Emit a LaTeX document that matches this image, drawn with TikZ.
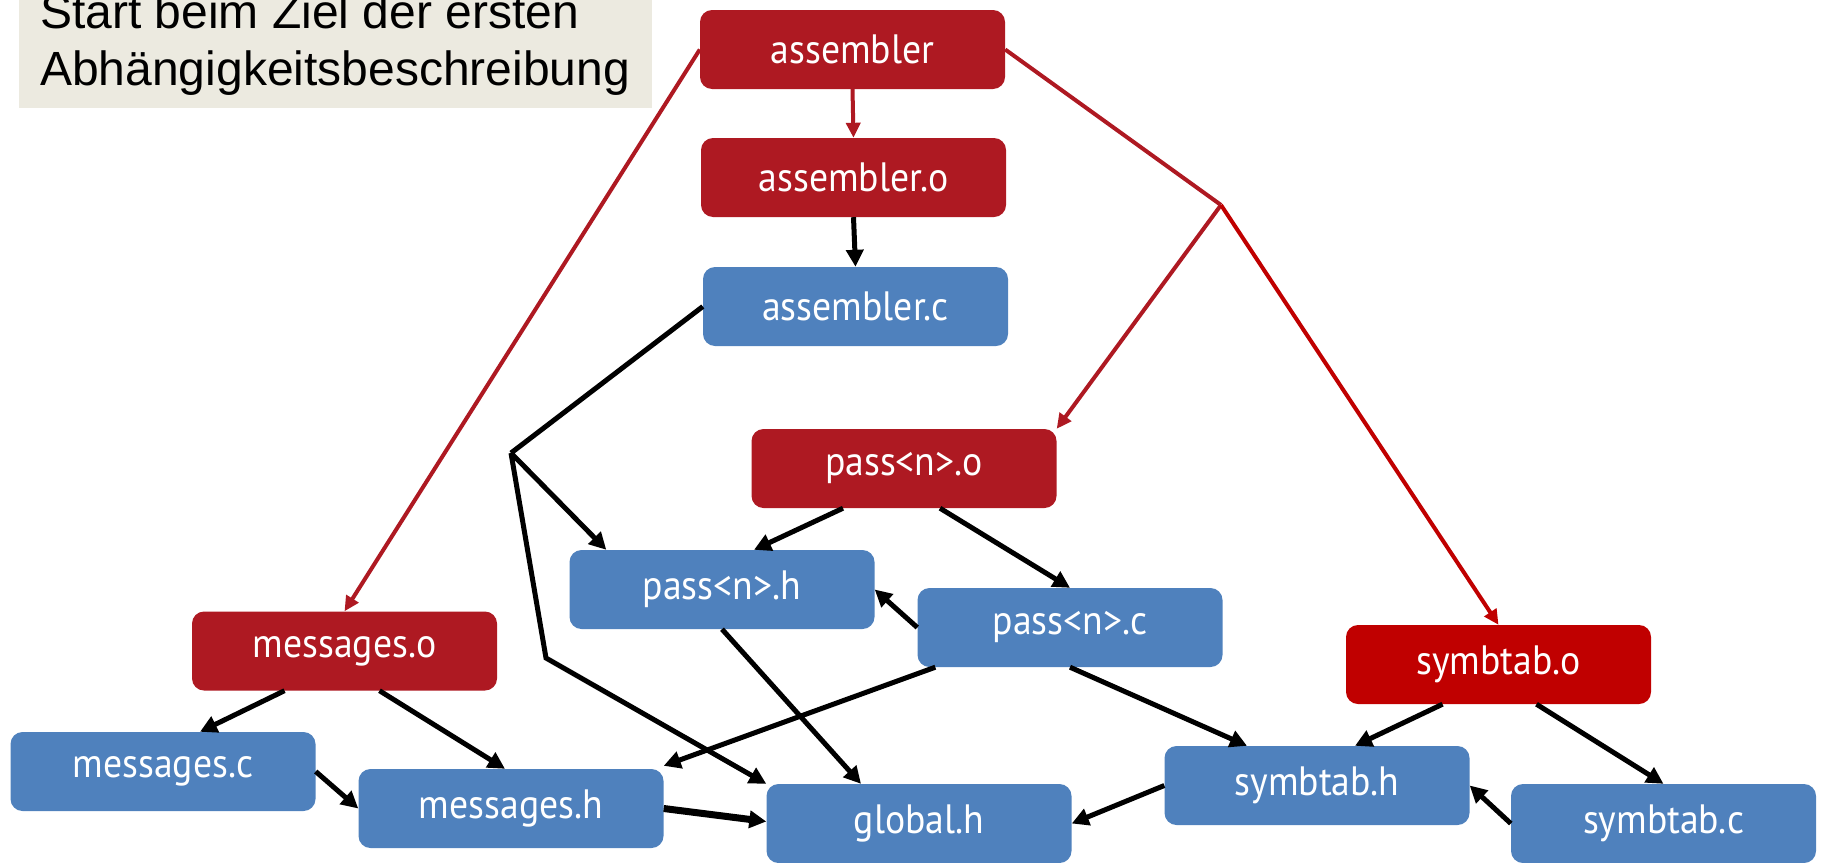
\documentclass[tikz,border=0pt]{standalone}
\usepackage{fontspec}
\setmainfont{Liberation Sans}
\newfontfamily\boxfont[FakeStretch=0.92]{PT Sans}
\usepackage{tikz}
\usetikzlibrary{arrows.meta}
\definecolor{mkred}{RGB}{174,25,34}
\definecolor{mkbrightred}{RGB}{192,0,0}
\definecolor{mkblue}{RGB}{79,129,189}
\definecolor{notegray}{RGB}{236,234,224}
\tikzstyle{target} = [rounded corners=12pt, minimum width=305pt, minimum height=79pt, inner sep=0pt, text=white, font=\boxfont\fontsize{41}{44}\selectfont]
\tikzstyle{objfile} = [target, fill=mkred]
\tikzstyle{srcfile} = [target, fill=mkblue]
\tikzstyle{dep} = [line width=5pt, -{Triangle[length=17pt,width=17pt]}, color=black]
\tikzstyle{reddep} = [line width=4pt, -{Triangle[length=15pt,width=14pt]}, color=mkred]

\begin{document}
\begin{tikzpicture}[x=1pt, y=-1pt]
\useasboundingbox (0,0) rectangle (1822,862);
\clip (0,0) rectangle (1822,862);

% Note in the corner
\fill[notegray] (19,-10) rectangle (652,108);
\node[anchor=base west, inner sep=0pt, font=\fontsize{48}{57}\selectfont] (note1) at (40,28) {Start beim Ziel der ersten};
\node[anchor=base west, inner sep=0pt, font=\fontsize{48}{57}\selectfont] (note2) at (40,85) {Abhängigkeitsbeschreibung};

% Targets
\node[objfile] (asm) at (852.5,49.5) {assembler};
\node[objfile] (asmo) at (853.5,177.5) {assembler.o};
\node[srcfile] (asmc) at (855.5,306.5) {assembler.c};
\node[objfile] (pno) at (904,468.5) {pass<n>.o};
\node[srcfile] (pnh) at (722,589.5) {pass<n>.h};
\node[srcfile] (pnc) at (1070,627.5) {pass<n>.c};
\node[objfile] (msgo) at (344.5,651) {messages.o};
\node[objfile, fill=mkbrightred] (symo) at (1498.5,664.5) {symbtab.o};
\node[srcfile] (msgc) at (163,771.5) {messages.c};
\node[srcfile] (msgh) at (511,808.5) {messages.h};
\node[srcfile] (glob) at (919,823.5) {global.h};
\node[srcfile] (symh) at (1317,785.5) {symbtab.h};
\node[srcfile] (symc) at (1663.5,823.5) {symbtab.c};

% Branch points
\coordinate (redfork) at (1221,205);
\coordinate (asmfork) at (511,453);
\coordinate (asmbend) at (546,658);

% First rule (red)
\draw[reddep] (asm.south) -- (asmo.north);
\draw[reddep] (asm.west) -- (msgo.north);
\draw[line width=4pt, mkred] (asm.east) -- (redfork);
\draw[reddep] (redfork) -- (pno.north east);
\draw[reddep, color=mkbrightred] (redfork) -- (symo.north);

% assembler.o
\draw[dep] (asmo.south) -- (asmc.north);
\draw[line width=5pt] (asmc.west) -- (asmfork);
\draw[dep] (asmfork) -- ([xshift=37pt]pnh.north west);
\draw[dep] (asmfork) -- (asmbend) -- (glob.north west);

% pass<n>.o
\draw[dep] ([xshift=-61pt]pno.south) -- ([xshift=32pt]pnh.north);
\draw[dep] ([xshift=36pt]pno.south) -- (pnc.north);
\draw[dep] (pnc.west) -- (pnh.east);
\draw[dep] (pnh.south) -- ([xshift=-58pt]glob.north);
\draw[dep] ([xshift=18pt]pnc.south west) -- ([yshift=3pt]msgh.north east);
\draw[dep] (pnc.south) -- ([xshift=-70pt]symh.north);

% messages.o
\draw[dep] ([xshift=-60pt]msgo.south) -- ([xshift=37pt]msgc.north);
\draw[dep] ([xshift=35pt]msgo.south) -- ([xshift=-6pt]msgh.north);
\draw[dep] (msgc.east) -- (msgh.west);
\draw[dep, line width=7pt] (msgh.east) -- ([yshift=2pt]glob.west);

% symbtab.o
\draw[dep] (symh.west) -- (glob.east);
\draw[dep] ([xshift=-56pt]symo.south) -- ([xshift=38pt]symh.north);
\draw[dep] ([xshift=38pt]symo.south) -- (symc.north);
\draw[dep] (symc.west) -- (symh.east);
\end{tikzpicture}
\end{document}
